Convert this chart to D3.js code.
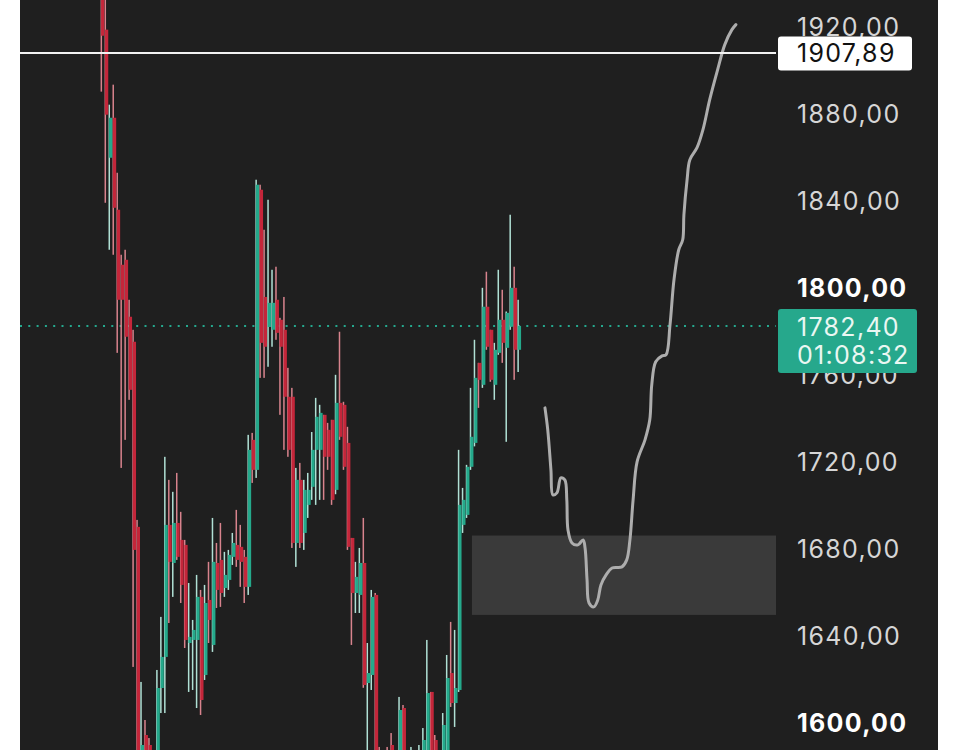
<!DOCTYPE html>
<html>
<head>
<meta charset="utf-8">
<script src="https://cdn.jsdelivr.net/npm/d3@7"></script>
<style>
html,body{margin:0;padding:0;background:#ffffff;}
svg{display:block;}
</style>
</head>
<body>
<svg id="chart" width="960" height="750"></svg>
<script>
// ---------- DATA ----------
const opens  = [1934.7,1918.6,1859.7,1878.1,1835.8,1810.5,1812.8,1786.6,1775.1,1690.0,
1569.0,1594.3,1589.7,1573.6,1578.2,1615.9,1630.2,1690.9,1673.4,1691.8,
1684.0,1681.7,1636.6,1638.0,1638.0,1657.8,1621.9,1656.4,1635.7,1673.4,
1674.8,1661.9,1665.6,1676.2,1681.7,1680.8,1676.2,1662.4,1730.0,1716.2,
1845.0,1795.7,1781.9,1780.6,1794.4,1785.2,1780.6,1749.8,1749.8,1682.6,
1711.6,1687.2,1700.1,1708.4,1725.4,1725.4,1741.5,1734.6,1739.2,1707.0,
1747.0,1746.1,1728.6,1684.9,1659.6,1658.7,1673.4,1618.2,1621.9,1658.7,
1582.8,1582.8,1585.1,1589.7,1573.6,1578.2,1606.7,1582.8,1571.3,1575.9,
1575.9,1575.9,1582.8,1614.1,1592.0,1575.9,1582.8,1585.1,1622.8,1609.0,
1615.0,1690.9,1695.5,1717.6,1728.6,1765.4,1755.3,1791.2,1780.6,1755.3,
1770.0,1785.2,1772.3,1782.0,1799.9,1771.4];
const highs  = [1937.0,1937.0,1884.1,1893.3,1852.8,1815.1,1817.4,1794.4,1780.6,1693.2,
1618.7,1601.2,1592.9,1586.5,1624.2,1648.6,1722.2,1711.6,1706.1,1714.8,
1696.9,1684.0,1664.2,1647.2,1667.9,1661.0,1663.3,1673.9,1694.1,1682.6,
1691.8,1678.5,1679.4,1687.2,1697.8,1690.9,1679.4,1732.3,1733.2,1849.6,
1847.3,1826.6,1840.4,1808.2,1809.6,1786.1,1795.7,1763.1,1753.9,1717.1,
1719.4,1711.6,1714.8,1733.6,1749.3,1746.1,1741.5,1737.8,1739.2,1759.9,
1779.7,1747.5,1736.0,1684.9,1673.9,1680.3,1694.1,1636.6,1661.0,1659.6,
1588.8,1586.5,1588.8,1595.2,1585.1,1611.8,1608.1,1586.5,1588.8,1586.5,
1589.7,1597.5,1638.0,1614.1,1594.3,1586.5,1604.4,1631.1,1646.3,1642.6,
1725.4,1707.9,1718.5,1753.9,1776.0,1765.4,1799.9,1807.3,1780.6,1774.6,
1808.2,1799.0,1789.0,1833.5,1809.6,1794.4];
const lows   = [1890.1,1839.0,1817.4,1815.1,1770.0,1717.1,1730.0,1748.4,1625.6,1569.0,
1564.4,1559.8,1564.4,1566.7,1569.0,1604.4,1604.4,1645.8,1657.8,1674.8,
1655.0,1634.3,1614.1,1615.0,1606.7,1603.5,1619.6,1636.6,1632.5,1652.7,
1653.2,1657.8,1661.0,1672.5,1671.6,1662.4,1655.0,1658.7,1710.2,1712.5,
1758.5,1758.5,1763.6,1772.8,1776.0,1741.5,1725.4,1722.2,1680.3,1671.6,
1680.3,1679.4,1694.1,1702.4,1700.1,1702.4,1702.4,1716.2,1700.1,1705.0,
1730.0,1716.2,1679.4,1635.7,1650.4,1650.4,1616.0,1582.8,1615.0,1569.0,
1564.4,1569.0,1566.7,1564.4,1566.7,1569.0,1569.0,1566.7,1566.7,1569.0,
1569.0,1571.3,1578.2,1573.6,1571.3,1569.0,1573.6,1580.5,1607.2,1598.0,
1614.1,1687.2,1694.1,1716.2,1727.0,1744.7,1753.9,1771.4,1756.7,1748.4,
1769.1,1765.4,1729.1,1780.6,1757.6,1761.2];
const closes = [1915.8,1879.5,1878.1,1836.7,1794.4,1794.4,1777.4,1753.0,1679.4,1578.2,
1589.7,1569.0,1569.0,1582.8,1615.9,1630.2,1690.9,1673.9,1691.8,1676.2,
1663.3,1638.0,1639.4,1642.6,1657.8,1610.4,1655.0,1647.2,1673.9,1661.0,
1659.6,1667.9,1677.1,1682.6,1674.8,1673.9,1662.4,1725.4,1716.2,1847.3,
1774.6,1772.8,1793.0,1793.0,1779.2,1772.8,1749.8,1725.4,1682.6,1711.6,
1682.6,1707.0,1707.0,1725.4,1740.6,1742.4,1722.2,1722.2,1702.4,1747.0,
1731.4,1717.6,1680.8,1659.6,1667.0,1673.4,1617.3,1622.8,1657.8,1578.2,
1569.0,1573.6,1571.3,1569.0,1580.5,1605.8,1573.6,1571.3,1585.1,1583.7,
1586.5,1592.0,1613.6,1582.8,1578.2,1582.8,1598.9,1620.5,1609.0,1615.9,
1700.1,1702.4,1717.6,1731.4,1758.5,1757.6,1791.2,1772.8,1757.6,1771.4,
1785.2,1774.6,1788.4,1799.9,1771.4,1782.4];

const tickValues = [1600,1640,1680,1720,1760,1800,1840,1880,1920];
const boldTicks  = [1600,1800];
const tickLabels = ["1600,00","1640,00","1680,00","1720,00","1760,00","1800,00","1840,00","1880,00","1920,00"];

const alertPrice = 1907.89;
const alertLabel = "1907,89";
const lastPrice = 1782.40;
const lastLabel = "1782,40";
const countdown = "01:08:32";

// projected (hand-drawn) path: bar index, price
const pathIdx   = [111.6,112.3,113.1,113.6,114.6,115.6,116.6,117.1,117.4,118.4,119.9,121.2,121.7,122.2,122.7,123.9,124.9,125.7,127.0,128.5,131.0,132.2,133.0,133.8,134.8,136.8,138.0,138.5,139.5,141.1,142.1,143.1,144.1,145.3,146.3,146.6,147.4,148.1,149.9,151.4,153.1,155.1,156.9,158.7,159.7];
const pathPrice = [1744.7,1734.6,1716.2,1704.7,1705.6,1712.5,1711.6,1702.4,1688.6,1682.6,1681.7,1684.0,1680.3,1665.6,1655.0,1653.2,1656.4,1663.3,1667.9,1671.1,1671.6,1674.8,1684.0,1702.4,1719.9,1730.0,1739.2,1755.3,1765.9,1768.6,1769.1,1782.9,1803.6,1817.4,1822.0,1833.5,1849.6,1858.8,1864.3,1872.6,1886.4,1900.2,1911.7,1918.6,1920.9];

// demand zone
const zoneStartIdx = 93.2;
const zoneLow = 1649.5, zoneHigh = 1686.0;

// view extent in bar units
const idxMin = -20.65, idxMax = 169.8;

// ---------- LAYOUT ----------
const svg = d3.select("#chart");
const W = 960, H = 750;
const plotL = 20, plotR = 776, panelR = 938;

const x = d3.scaleLinear().domain([idxMin, idxMax]).range([plotL, plotR]);
const y = d3.scaleLinear().domain([1600, 1920]).range([722.6, 26.6]);

const bg = "#1f1f1f";
svg.append("rect").attr("x", plotL).attr("y", 0).attr("width", panelR - plotL).attr("height", H).attr("fill", bg);

svg.append("defs").append("clipPath").attr("id","plotclip")
  .append("rect").attr("x", plotL).attr("y", 0).attr("width", plotR - plotL).attr("height", H);

const plot = svg.append("g").attr("clip-path","url(#plotclip)");

// zone
plot.append("rect")
  .attr("x", x(zoneStartIdx)).attr("y", y(zoneHigh))
  .attr("width", x(idxMax) - x(zoneStartIdx))
  .attr("height", y(zoneLow) - y(zoneHigh))
  .attr("fill", "#3a3a3a");

// last price dotted line
plot.append("line")
  .attr("x1", plotL).attr("x2", plotR)
  .attr("y1", y(lastPrice)).attr("y2", y(lastPrice))
  .attr("stroke", "#25a88e").attr("stroke-width", 2)
  .attr("stroke-dasharray", "2,6.3");

// candles
const data = opens.map((o,i)=>({i, o, h:highs[i], l:lows[i], c:closes[i]}));
const UP = "#24a98b", UPW = "#b0e0d5", DN = "#c4263a", DNW = "#d8838d";
const cg = plot.append("g");
cg.selectAll("rect.wick").data(data).join("rect")
  .attr("class","wick")
  .attr("x", d => x(d.i) - 1.4)
  .attr("width", 1.5)
  .attr("y", d => y(d.h))
  .attr("height", d => Math.max(1, y(d.l) - y(d.h)))
  .attr("fill", d => d.c >= d.o ? UPW : DNW);
cg.selectAll("rect.body").data(data).join("rect")
  .attr("class","body")
  .attr("x", d => x(d.i) - 0.9)
  .attr("width", 3.2)
  .attr("y", d => y(Math.max(d.o, d.c)))
  .attr("height", d => Math.max(1.5, Math.abs(y(d.o) - y(d.c))))
  .attr("fill", d => d.c >= d.o ? UP : DN);

// hand-drawn projection
const pts = pathIdx.map((v,i)=>[v, pathPrice[i]]);
plot.append("path")
  .attr("d", d3.line().x(d=>x(d[0])).y(d=>y(d[1])).curve(d3.curveCatmullRom.alpha(0.5))(pts))
  .attr("fill","none").attr("stroke","#adadad").attr("stroke-width",3)
  .attr("stroke-linecap","round").attr("stroke-linejoin","round");

// alert line
svg.append("line")
  .attr("x1", plotL).attr("x2", plotR)
  .attr("y1", y(alertPrice)).attr("y2", y(alertPrice))
  .attr("stroke", "#f2f2f2").attr("stroke-width", 2);

// axis labels
const font = "Inter, 'Liberation Sans', Arial, sans-serif";
const FS = 25, LS = 1.3;
const axisG = svg.append("g");
axisG.selectAll("text").data(tickValues).join("text")
  .attr("x", 797)
  .attr("y", d => y(d))
  .attr("dy", "0.36em")
  .attr("font-family", font)
  .attr("font-size", FS)
  .attr("letter-spacing", LS)
  .attr("font-weight", d => boldTicks.includes(d) ? 700 : 400)
  .attr("fill", d => boldTicks.includes(d) ? "#ffffff" : "#d6d6d6")
  .text((d,i) => tickLabels[i]);

// alert label
svg.append("rect")
  .attr("x", 778).attr("y", y(alertPrice) - 16.5)
  .attr("width", 134).attr("height", 34).attr("rx", 3)
  .attr("fill", "#ffffff");
svg.append("text")
  .attr("x", 797).attr("y", y(alertPrice)).attr("dy","0.36em")
  .attr("font-family", font).attr("font-size", FS).attr("letter-spacing", LS)
  .attr("fill", "#111111").text(alertLabel);

// last price label
svg.append("rect")
  .attr("x", 778).attr("y", y(lastPrice) - 17)
  .attr("width", 139).attr("height", 64).attr("rx", 3)
  .attr("fill", "#26a88c");
svg.append("text")
  .attr("x", 797).attr("y", y(lastPrice) + 1).attr("dy","0.36em")
  .attr("font-family", font).attr("font-size", FS).attr("letter-spacing", LS)
  .attr("fill", "#eaf7f2").text(lastLabel);
svg.append("text")
  .attr("x", 797).attr("y", y(lastPrice) + 29).attr("dy","0.36em")
  .attr("font-family", font).attr("font-size", FS).attr("letter-spacing", LS)
  .attr("fill", "#eaf7f2").text(countdown);
</script>
</body>
</html>
